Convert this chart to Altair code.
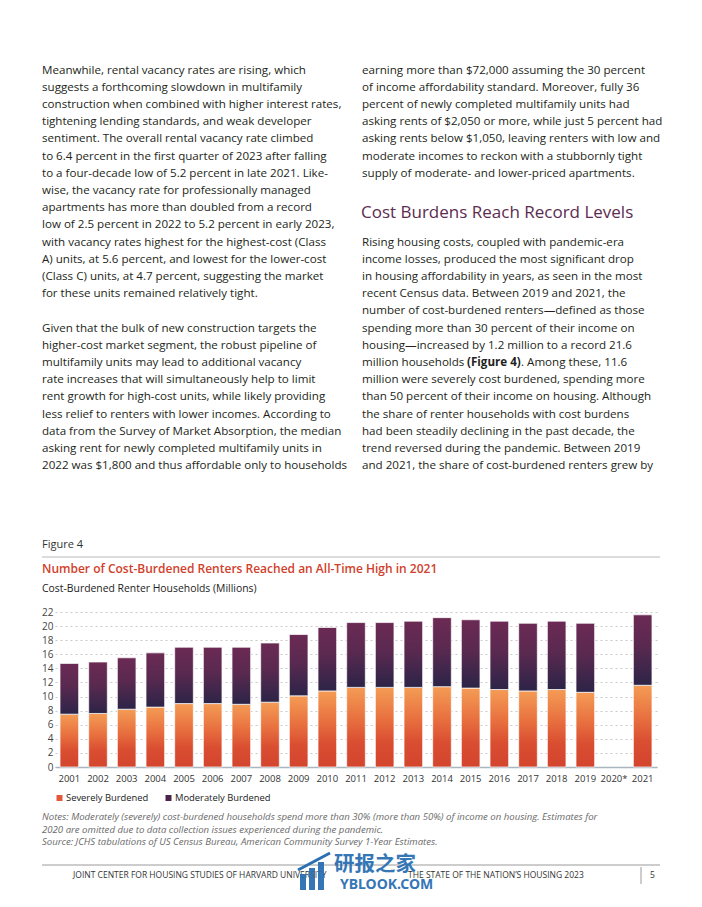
import altair as alt
import pandas as pd

# ---------------- data ----------------
years = ["2001", "2002", "2003", "2004", "2005", "2006", "2007", "2008", "2009", "2010",
         "2011", "2012", "2013", "2014", "2015", "2016", "2017", "2018", "2019", "2020*", "2021"]
bar_years = ["2001", "2002", "2003", "2004", "2005", "2006", "2007", "2008", "2009", "2010",
             "2011", "2012", "2013", "2014", "2015", "2016", "2017", "2018", "2019", "2021"]
severe = [7.5, 7.6, 8.2, 8.5, 9.0, 9.0, 8.9, 9.2, 10.1, 10.8,
          11.3, 11.3, 11.3, 11.4, 11.2, 11.0, 10.8, 11.0, 10.6, 11.6]
moderate = [7.2, 7.3, 7.3, 7.7, 8.0, 8.0, 8.1, 8.4, 8.7, 9.0,
            9.2, 9.2, 9.4, 9.8, 9.7, 9.7, 9.6, 9.7, 9.8, 10.0]
y_ticks = [0, 2, 4, 6, 8, 10, 12, 14, 16, 18, 20, 22]

left_lines = [
    "Meanwhile, rental vacancy rates are rising, which",
    "suggests a forthcoming slowdown in multifamily",
    "construction when combined with higher interest rates,",
    "tightening lending standards, and weak developer",
    "sentiment. The overall rental vacancy rate climbed",
    "to 6.4 percent in the first quarter of 2023 after falling",
    "to a four-decade low of 5.2 percent in late 2021. Like-",
    "wise, the vacancy rate for professionally managed",
    "apartments has more than doubled from a record",
    "low of 2.5 percent in 2022 to 5.2 percent in early 2023,",
    "with vacancy rates highest for the highest-cost (Class",
    "A) units, at 5.6 percent, and lowest for the lower-cost",
    "(Class C) units, at 4.7 percent, suggesting the market",
    "for these units remained relatively tight.",
    "Given that the bulk of new construction targets the",
    "higher-cost market segment, the robust pipeline of",
    "multifamily units may lead to additional vacancy",
    "rate increases that will simultaneously help to limit",
    "rent growth for high-cost units, while likely providing",
    "less relief to renters with lower incomes. According to",
    "data from the Survey of Market Absorption, the median",
    "asking rent for newly completed multifamily units in",
    "2022 was $1,800 and thus affordable only to households",
]
left_rows = list(range(0, 14)) + list(range(15, 24))

right_lines = [
    "earning more than $72,000 assuming the 30 percent",
    "of income affordability standard. Moreover, fully 36",
    "percent of newly completed multifamily units had",
    "asking rents of $2,050 or more, while just 5 percent had",
    "asking rents below $1,050, leaving renters with low and",
    "moderate incomes to reckon with a stubbornly tight",
    "supply of moderate- and lower-priced apartments.",
    "Rising housing costs, coupled with pandemic-era",
    "income losses, produced the most significant drop",
    "in housing affordability in years, as seen in the most",
    "recent Census data. Between 2019 and 2021, the",
    "number of cost-burdened renters\u2014defined as those",
    "spending more than 30 percent of their income on",
    "housing\u2014increased by 1.2 million to a record 21.6",
    "million households ",
    "million were severely cost burdened, spending more",
    "than 50 percent of their income on housing. Although",
    "the share of renter households with cost burdens",
    "had been steadily declining in the past decade, the",
    "trend reversed during the pandemic. Between 2019",
    "and 2021, the share of cost-burdened renters grew by",
]
right_rows = list(range(0, 7)) + list(range(10, 24))

heading = "Cost Burdens Reach Record Levels"
fig_label = "Figure 4"
title = "Number of Cost-Burdened Renters Reached an All-Time High in 2021"
subtitle = "Cost-Burdened Renter Households (Millions)"
legend_labels = ["Severely Burdened", "Moderately Burdened"]
notes = [
    "Notes: Moderately (severely) cost-burdened households spend more than 30% (more than 50%) of income on housing. Estimates for",
    "2020 are omitted due to data collection issues experienced during the pandemic.",
    "Source: JCHS tabulations of US Census Bureau, American Community Survey 1-Year Estimates.",
]
footer_left = "JOINT CENTER FOR HOUSING STUDIES OF HARVARD UNIVERSITY"
footer_right = "THE STATE OF THE NATION\u2019S HOUSING 2023"
page_no = "5"

# ---------------- layout ----------------
X0, Y0 = 55, 612          # page position of the plot origin
W, H = 602, 155
LINE = 17.2
TOP = 70.5
FONT = "Open Sans"
BODY = 11.6


def px(v):
    return v - X0


def py(v):
    return v - Y0


def text_layer(df, **kw):
    base = dict(align="left", baseline="middle", font=FONT)
    base.update(kw)
    return alt.Chart(df).mark_text(**base).encode(
        x=alt.X("px:Q", scale=None, axis=None),
        y=alt.Y("py:Q", scale=None, axis=None),
        text="t:N",
    )


def rule(x1, x2, y1, y2, color, sw):
    return alt.Chart(pd.DataFrame({"d": [0]})).mark_rule(color=color, strokeWidth=sw).encode(
        x=alt.value(px(x1)), x2=alt.value(px(x2)), y=alt.value(py(y1)), y2=alt.value(py(y2))
    )


def box(x1, x2, y1, y2, color, opacity=1.0):
    return alt.Chart(pd.DataFrame({"d": [0]})).mark_rect(color=color, opacity=opacity).encode(
        x=alt.value(px(x1)), x2=alt.value(px(x2)), y=alt.value(py(y1)), y2=alt.value(py(y2))
    )


# ---------------- bars ----------------
bars_df = pd.DataFrame({"year": bar_years, "severe": severe, "moderate": moderate})

grad_sev = alt.LinearGradient(
    gradient="linear", x1=0, x2=0, y1=0, y2=1,
    stops=[alt.GradientStop(color="#f49c55", offset=0),
           alt.GradientStop(color="#e8703f", offset=0.4),
           alt.GradientStop(color="#d94d31", offset=0.7),
           alt.GradientStop(color="#d3452e", offset=1)],
)
grad_mod = alt.LinearGradient(
    gradient="linear", x1=0, x2=0, y1=0, y2=1,
    stops=[alt.GradientStop(color="#6b2a54", offset=0),
           alt.GradientStop(color="#5a2950", offset=0.45),
           alt.GradientStop(color="#2c2447", offset=1)],
)

x_enc = alt.X(
    "year:N",
    scale=alt.Scale(domain=years, paddingInner=0.35, paddingOuter=0.175),
    axis=alt.Axis(title=None, labelAngle=0, ticks=False, domainColor="#a9b6bf", domainWidth=1.5,
                  labelFont=FONT, labelFontSize=9.5, labelColor="#333333", labelPadding=6, grid=False),
)
y_scale = alt.Scale(domain=[0, 22], nice=False, zero=True)
y_axis = alt.Axis(title=None, values=y_ticks, ticks=False, domain=False, grid=True,
                  gridColor="#c9c9c9", gridDash=[2, 3], gridWidth=1,
                  labelFont=FONT, labelFontSize=10, labelColor="#444444", labelPadding=2)

sev_bars = alt.Chart(bars_df).mark_bar(color=grad_sev, stroke="white", strokeWidth=0.7).encode(
    x=x_enc,
    y=alt.Y("severe:Q", scale=y_scale, axis=y_axis),
)
mod_bars = alt.Chart(bars_df).transform_calculate(
    total="datum.severe + datum.moderate"
).mark_bar(color=grad_mod, stroke="white", strokeWidth=0.7).encode(
    x=x_enc,
    y=alt.Y("severe:Q", scale=y_scale, axis=y_axis),
    y2="total:Q",
)
bars = alt.layer(sev_bars, mod_bars)

# ---------------- text ----------------
left_df = pd.DataFrame({"t": left_lines,
                        "px": [px(42)] * len(left_lines),
                        "py": [py(TOP + r * LINE) for r in left_rows]})
right_df = pd.DataFrame({"t": right_lines,
                         "px": [px(362)] * len(right_lines),
                         "py": [py(TOP + r * LINE) for r in right_rows]})
body = text_layer(pd.concat([left_df, right_df]), fontSize=BODY, color="#231f20")

fig_ref = text_layer(pd.DataFrame({"t": ["(Figure 4)"], "px": [px(467)], "py": [py(TOP + 17 * LINE)]}),
                     fontSize=BODY, color="#231f20", fontWeight="bold")
fig_after = text_layer(pd.DataFrame({"t": [". Among these, 11.6"], "px": [px(521)], "py": [py(TOP + 17 * LINE)]}),
                       fontSize=BODY, color="#231f20")

head = text_layer(pd.DataFrame({"t": [heading], "px": [px(361)], "py": [py(213)]}),
                  fontSize=17, color="#5c2b50", fontWeight=500)

figlab = text_layer(pd.DataFrame({"t": [fig_label], "px": [px(42)], "py": [py(545)]}),
                    fontSize=11, color="#333333")
ttl = text_layer(pd.DataFrame({"t": [title], "px": [px(42)], "py": [py(569)]}),
                 fontSize=12, color="#d1402b", fontWeight=600)
sub = text_layer(pd.DataFrame({"t": [subtitle], "px": [px(42)], "py": [py(588.5)]}),
                 fontSize=10.4, color="#222222")

leg_text = text_layer(pd.DataFrame({"t": legend_labels, "px": [px(66), px(175)], "py": [py(798), py(798)]}),
                      fontSize=9.4, color="#222222", fontWeight=500)
leg_sev = box(56.5, 62.5, 795, 801, "#e2593a")
leg_mod = box(165.5, 171.5, 795, 801, "#4b2549")

notes_t = text_layer(pd.DataFrame({"t": notes, "px": [px(42)] * 3, "py": [py(817), py(829.5), py(842)]}),
                     fontSize=9.6, color="#6a6a6a", fontStyle="italic")

foot = text_layer(pd.DataFrame({"t": [footer_left, footer_right, page_no],
                                "px": [px(73), px(408), px(650)],
                                "py": [py(875), py(875), py(875)]}),
                  fontSize=8.5, color="#333333")

# watermark
wm_bars = alt.layer(
    box(300, 306, 874, 890, "#2b6fb3", 0.95),
    box(309, 315, 868, 890, "#2b6fb3", 0.95),
    box(318, 324, 862, 890, "#2b6fb3", 0.95),
    rule(298, 330, 870, 853, "#2b6fb3", 3),
)
wm_cn = text_layer(pd.DataFrame({"t": ["\u7814\u62a5\u4e4b\u5bb6"], "px": [px(334)], "py": [py(865)]}),
                   fontSize=20.5, color="#2b6fb3", font="Noto Sans CJK SC", fontWeight="bold", opacity=0.95)
wm_en = text_layer(pd.DataFrame({"t": ["YBLOOK.COM"], "px": [px(340)], "py": [py(885)]}),
                   fontSize=14, color="#2b6fb3", font="Noto Sans", fontWeight="bold", opacity=0.95)

line_fig = rule(42, 660, 557, 557, "#dcdcdc", 2)
line_foot = rule(42, 660, 865, 865, "#9a9a9a", 1)
line_sep = rule(641, 641, 867, 884, "#9a9a9a", 1)

chart = alt.layer(
    line_fig, line_foot, line_sep,
    bars,
    body, fig_ref, fig_after, head, figlab, ttl, sub,
    leg_sev, leg_mod, leg_text, notes_t, foot, wm_bars, wm_cn, wm_en,
).resolve_scale(x="independent", y="independent").properties(
    width=W, height=H,
    autosize=alt.AutoSizeParams(type="none"),
    padding={"left": X0 - 8, "top": Y0 - 8, "right": 686 - (X0 - 8) - W, "bottom": 891 - (Y0 - 8) - H},
    background="white",
).configure_view(stroke=None)

chart.save("out.html", embed_options={"renderer": "svg", "actions": False})
